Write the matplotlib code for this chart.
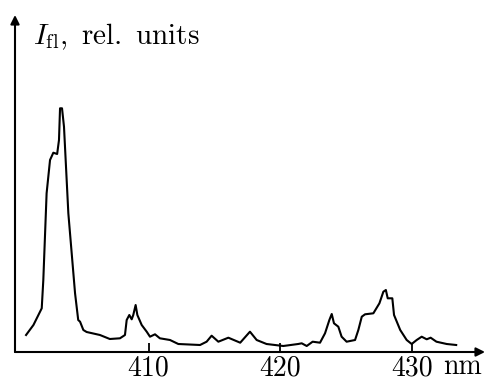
import matplotlib
matplotlib.use("Agg")
import matplotlib.pyplot as plt

plt.rcParams['mathtext.fontset'] = 'cm'

wavelength = [400.70, 401.26, 401.89, 402.01, 402.26, 402.52, 402.77, 403.06, 403.20, 403.28, 403.43,
              403.58, 403.91, 404.42, 404.66, 404.80, 405.05, 405.30, 406.31, 407.06, 407.83, 408.21,
              408.34, 408.54, 408.72, 408.84, 409.02, 409.15, 409.48, 409.86, 410.11, 410.49, 410.86,
              411.63, 412.26, 413.91, 414.41, 414.79, 415.30, 416.06, 416.96, 417.70, 418.21, 418.96,
              420.23, 421.36, 421.63, 422.01, 422.46, 423.02, 423.40, 423.73, 423.91, 424.08, 424.41,
              424.66, 425.04, 425.68, 425.93, 426.19, 426.44, 427.07, 427.53, 427.83, 428.02, 428.16,
              428.51, 428.64, 429.11, 429.60, 429.98, 430.36, 430.74, 431.12, 431.42, 431.86, 432.64,
              433.36]
intensity = [17, 27, 43.7, 72, 158.7, 192, 199.3, 198, 212, 243.7, 243.7,
             225.3, 138.7, 58.7, 32, 30.3, 22, 20, 17, 13, 13.7, 17,
             32, 37, 32.7, 37, 47, 37, 27, 20.3, 15.3, 17.7, 13.7,
             12, 8, 7, 10.3, 16.3, 10.3, 14.3, 9.3, 20.3, 12, 8,
             6, 8, 8.7, 6, 10.3, 9.3, 18.7, 32, 38, 28.7, 25.3,
             15.3, 10.3, 12, 22, 35.3, 37.7, 38.7, 48.7, 60.3, 62, 53.7,
             53.7, 37, 22, 12, 8, 12, 15.3, 12.7, 14.3, 10.3, 8,
             7]
tick_values = [410, 420, 430]
tick_labels = ['410', '420', '430']

fig = plt.figure(figsize=(4.86, 3.81), dpi=100)
ax = fig.add_axes([15/486, 29/381, 470/486, 337/381])
ax.plot(wavelength, intensity, color='black', lw=1.5, solid_joinstyle='round')
ax.set_xlim(399.86, 399.86 + 470/13.17)
ax.set_ylim(0, 337)
for s in ax.spines.values():
    s.set_visible(False)
ax.set_yticks([])
ax.set_xticks(tick_values)
ax.set_xticklabels(tick_labels, fontsize=20, fontfamily='cmr10')
ax.tick_params(axis='x', direction='in', length=6.5, width=1.3, pad=2)
# axes with arrows
ax.annotate('', xy=(1.0, 0), xytext=(0, 0), xycoords='axes fraction',
            arrowprops=dict(arrowstyle='-|>', color='black', lw=1.5, mutation_scale=13,
                            shrinkA=0, shrinkB=0))
ax.annotate('', xy=(0, 1.0), xytext=(0, 0), xycoords='axes fraction',
            arrowprops=dict(arrowstyle='-|>', color='black', lw=1.5, mutation_scale=13,
                            shrinkA=0, shrinkB=0))
fig.text(33/486, 1 - 44/381, r'$I_{\rm fl},\ {\rm rel.\ units}$', fontsize=21, ha='left', va='baseline')
fig.text(443/486, 1/381, 'nm', fontsize=20, fontfamily='cmr10', ha='left', va='bottom')
fig.savefig('out.png', dpi=100)
